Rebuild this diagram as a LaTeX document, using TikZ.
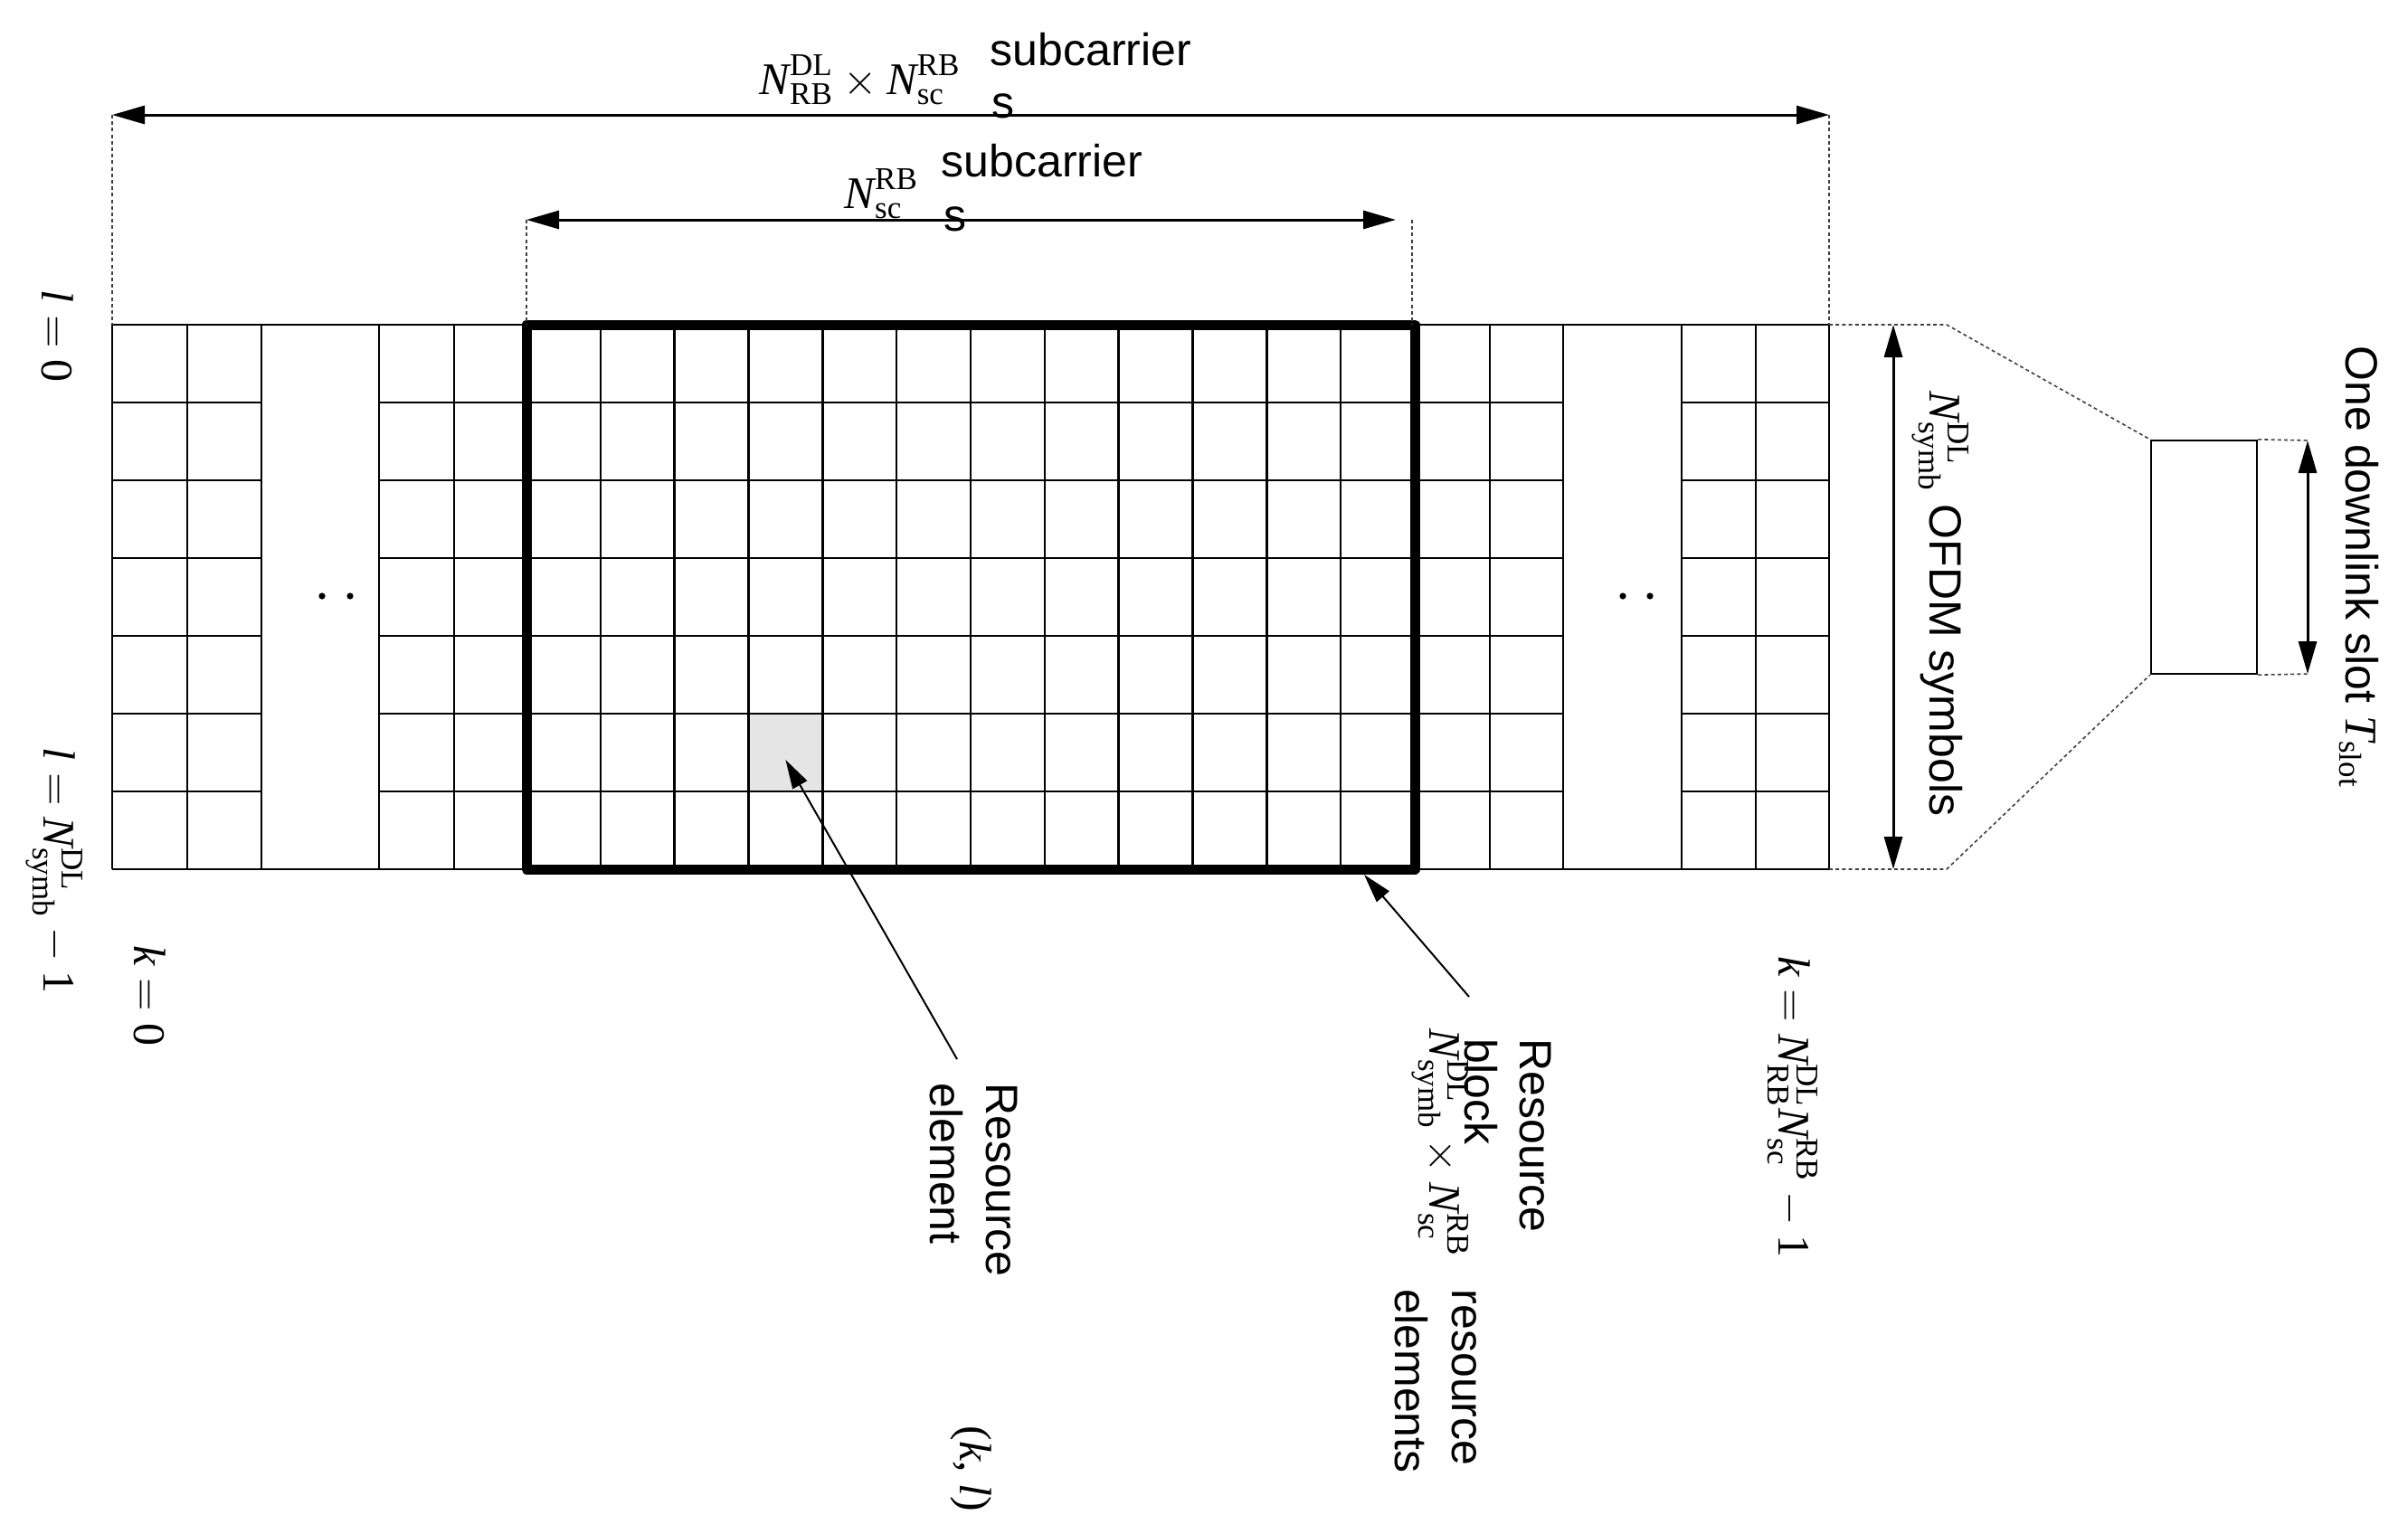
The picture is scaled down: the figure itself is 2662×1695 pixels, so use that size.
\documentclass[tikz,border=0pt]{standalone}
\usepackage{fontspec}
\usepackage{amsmath}
\setmainfont{Liberation Sans}
\newfontfamily\serifnum{Liberation Serif}
\usetikzlibrary{arrows.meta}
\newcommand{\tr}[1]{\text{\serifnum #1}}
\newcommand{\ti}[1]{\text{\serifnum\itshape #1}}
\newcommand{\Nsym}[2]{\ti{N}^{\tr{#1}}_{\tr{#2}}}
\begin{document}
\begin{tikzpicture}[x=0.25pt,y=-0.25pt,
  lbl/.style={inner sep=0pt, font=\fontsize{12.5}{15}\selectfont},
  rlbl/.style={lbl, rotate=-90, anchor=west},
  gridline/.style={line width=0.6pt},
  dimarrow/.style={line width=0.75pt, {Triangle[length=9pt,width=5pt]}-{Triangle[length=9pt,width=5pt]}},
  pointer/.style={line width=0.5pt, -{Triangle[length=8pt,width=4.5pt]}},
  guide/.style={line width=0.4pt, black!75, dash pattern=on 1pt off 0.8pt},
]
\useasboundingbox (0,0) rectangle (2662,1695);

% shaded resource element
\node (recell) [fill=black!10, inner sep=0pt, minimum width=20.45pt, minimum height=21.5pt] at (868.4,832) {};

% grid vertical lines
\foreach \x in {124,207,289,419,502,1647,1728,1859,1941,2022}
  \draw[gridline] (\x,359) -- (\x,961);
\foreach \i in {1,...,11}
  \draw[gridline] ({582+\i*81.8333},359) -- ({582+\i*81.8333},961);
% grid horizontal lines
\foreach \j in {1,...,6} {
  \draw[gridline] (124,{359+\j*86}) -- (289,{359+\j*86});
  \draw[gridline] (419,{359+\j*86}) -- (1728,{359+\j*86});
  \draw[gridline] (1859,{359+\j*86}) -- (2022,{359+\j*86});
}
\coordinate (gTL) at (124,359);
\coordinate (gTR) at (2022,359);
\coordinate (gBL) at (124,961);
\coordinate (gBR) at (2022,961);
\draw[gridline] (gTL) -- (gTR);
\draw[gridline] (gBL) -- (gBR);

% dots in the gaps
\fill (356,659) circle[radius=0.9pt];
\fill (387,659) circle[radius=0.9pt];
\fill (1794,659) circle[radius=0.9pt];
\fill (1824,659) circle[radius=0.9pt];

% resource block
\node (rb) [draw, line width=2.75pt, line join=round, inner sep=0pt, minimum width=245.5pt, minimum height=150.5pt] at (1073,660) {};

% top dimension arrows
\coordinate (a1l) at (124,127);
\coordinate (a1r) at (2022,127);
\draw[dimarrow] (a1l) -- (a1r);
\draw[guide] (a1l) -- (gTL);
\draw[guide] (a1r) -- (gTR);
\coordinate (a2l) at (582,243);
\coordinate (a2r) at (1543,243);
\coordinate (a2g) at (1561,243);
\draw[dimarrow] (a2l) -- (a2r);
\draw[guide] (a2l) -- (582,359);
\draw[guide] (a2g) -- (1561,359);

\node[lbl, anchor=base west] (m1) at (839,104) {$\Nsym{DL}{RB}\times\Nsym{RB}{sc}$};
\node[lbl, anchor=base west] (sc1) at (1094,72) {subcarrier};
\node[lbl, anchor=base west] (sc1s) at (1096,130) {s};
\node[lbl, anchor=base west] (m2) at (933,230) {$\Nsym{RB}{sc}$};
\node[lbl, anchor=base west] (sc2) at (1040,195) {subcarrier};
\node[lbl, anchor=base west] (sc2s) at (1043,255) {s};

% OFDM symbols arrow
\coordinate (o1) at (2093,359);
\coordinate (o2) at (2093,961);
\draw[dimarrow] (o1) -- (o2);
\node[rlbl] (ofdm) at (2145,432) {$\Nsym{DL}{symb}$ OFDM symbols};

% slot box
\node (slotbox) [draw, line width=0.6pt, inner sep=0pt, minimum width=29.25pt, minimum height=64.5pt] at (2436.5,616) {};
\coordinate (tz1) at (2152,359);
\coordinate (tz2) at (2152,961);
\draw[guide] (gTR) -- (tz1) -- (slotbox.north west);
\draw[guide] (gBR) -- (tz2) -- (slotbox.south west);
\coordinate (s1) at (2553,487);
\coordinate (s2) at (2553,745);
\draw[guide] (slotbox.north east) -- (s1);
\draw[guide] (slotbox.south east) -- (s2);
\draw[dimarrow] (2551,487) -- (2551,745);
\node[rlbl] (slot) at (2608,382) {One downlink slot $\ti{T}_{\tr{slot}}$};

% index labels
\node[rlbl] (l0) at (64,320) {$\ti{l}=\tr{0}$};
\node[rlbl] (lN) at (60,826) {$\ti{l}=\Nsym{DL}{symb}-\tr{1}$};
\node[rlbl] (k0) at (166,1045) {$\ti{k}=\tr{0}$};
\node[rlbl] (kN) at (1982,1057) {$\ti{k}=\Nsym{DL}{RB}\Nsym{RB}{sc}-\tr{1}$};

% resource element label
\node[rlbl] (re1) at (1107,1197) {Resource};
\node[rlbl] (re2) at (1046,1197) {element};
\node[rlbl] (kl) at (1074,1576) {\serifnum(\textit{k}, \textit{l})};
\coordinate (restart) at (1058,1171);
\draw[pointer] (restart) -- ([yshift=-2pt]recell.center);

% resource block label
\node[rlbl] (rb1) at (1697,1148) {Resource};
\node[rlbl] (rb2) at (1637,1148) {block};
\node[rlbl] (rb3) at (1592,1137) {$\Nsym{DL}{symb}\times\Nsym{RB}{sc}$};
\node[rlbl] (rb4) at (1619,1425) {resource};
\node[rlbl] (rb5) at (1560,1425) {elements};
\coordinate (rbstart) at (1624,1102);
\coordinate (rbtip) at (1508,967);
\draw[pointer] (rbstart) -- (rbtip);
\end{tikzpicture}
\end{document}
